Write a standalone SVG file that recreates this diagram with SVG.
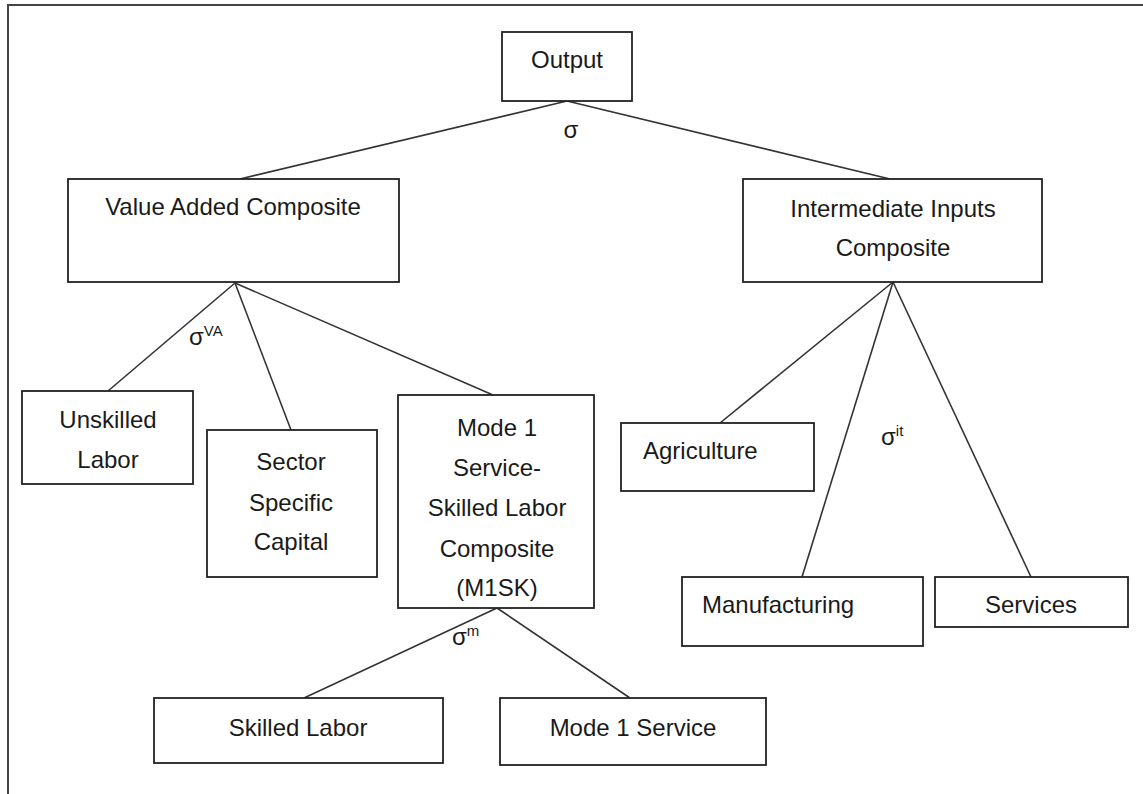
<svg xmlns="http://www.w3.org/2000/svg" width="1143" height="794" viewBox="0 0 1143 794">
<style>
.box{fill:#fff;stroke:#222;stroke-width:1.8}
.t{font-family:"Liberation Sans",Arial,sans-serif;font-size:24px;fill:#1a1a1a;text-anchor:middle}
.s{text-anchor:start}
.sup{font-size:15px}
.c line{stroke:#333;stroke-width:1.6}
.frame{fill:none;stroke:#444;stroke-width:2}
</style>
<rect width="1143" height="794" fill="#fff"/>
<path class="frame" d="M8,794 V5 H1143"/>
<g class="c" id="connectors">
<line x1="567" y1="101" x2="240" y2="179"/>
<line x1="567" y1="101" x2="890" y2="179"/>
<line x1="235" y1="283" x2="108" y2="391"/>
<line x1="235" y1="283" x2="291" y2="430"/>
<line x1="235" y1="283" x2="493" y2="395"/>
<line x1="893" y1="282" x2="720" y2="423"/>
<line x1="893" y1="282" x2="802" y2="577"/>
<line x1="893" y1="282" x2="1031" y2="577"/>
<line x1="497" y1="608" x2="304" y2="698"/>
<line x1="497" y1="608" x2="630" y2="698"/>
</g>
<g id="sigmas">
<text class="t" x="571" y="138">σ</text>
<text class="t s" x="189" y="345">σ<tspan class="sup" dy="-9">VA</tspan></text>
<text class="t s" x="881" y="445">σ<tspan class="sup" dy="-9">it</tspan></text>
<text class="t s" x="452" y="645">σ<tspan class="sup" dy="-9">m</tspan></text>
</g>
<g id="output"><rect class="box" x="502" y="32" width="130" height="69"/><text class="t" x="567" y="68">Output</text></g>
<g id="vac"><rect class="box" x="68" y="179" width="331" height="103"/><text class="t" x="233" y="215">Value Added Composite</text></g>
<g id="iic"><rect class="box" x="743" y="179" width="299" height="103"/><text class="t" x="893" y="217">Intermediate Inputs</text><text class="t" x="893" y="256">Composite</text></g>
<g id="unskilled"><rect class="box" x="22" y="391" width="171" height="93"/><text class="t" x="108" y="428">Unskilled</text><text class="t" x="108" y="468">Labor</text></g>
<g id="ssc"><rect class="box" x="207" y="430" width="170" height="147"/><text class="t" x="291" y="470">Sector</text><text class="t" x="291" y="511">Specific</text><text class="t" x="291" y="550">Capital</text></g>
<g id="m1sk"><rect class="box" x="398" y="395" width="196" height="213"/><text class="t" x="497" y="436">Mode 1</text><text class="t" x="497" y="476">Service-</text><text class="t" x="497" y="516">Skilled Labor</text><text class="t" x="497" y="557">Composite</text><text class="t" x="497" y="596">(M1SK)</text></g>
<g id="agri"><rect class="box" x="621" y="423" width="193" height="68"/><text class="t s" x="643" y="459">Agriculture</text></g>
<g id="manu"><rect class="box" x="682" y="577" width="241" height="69"/><text class="t s" x="702" y="613">Manufacturing</text></g>
<g id="services"><rect class="box" x="935" y="577" width="193" height="50"/><text class="t" x="1031" y="613">Services</text></g>
<g id="skilled"><rect class="box" x="154" y="698" width="289" height="65"/><text class="t" x="298" y="736">Skilled Labor</text></g>
<g id="mode1"><rect class="box" x="500" y="698" width="266" height="67"/><text class="t" x="633" y="736">Mode 1 Service</text></g>
</svg>
